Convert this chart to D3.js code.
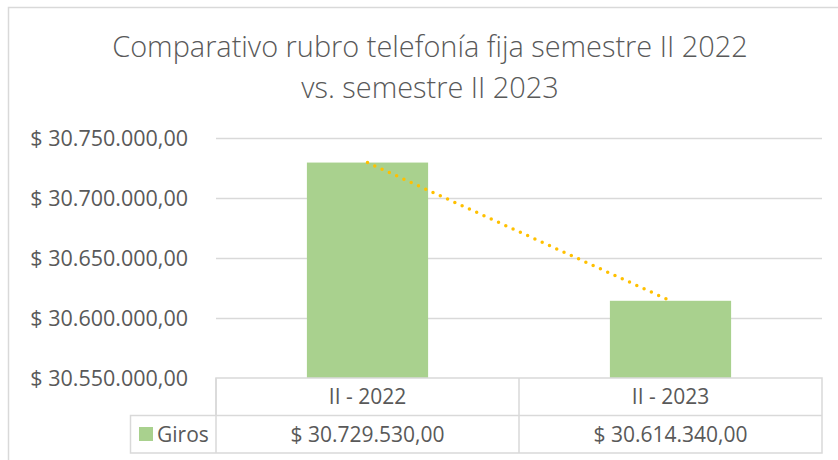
<!DOCTYPE html>
<html><head><meta charset="utf-8">
<script src="https://cdn.jsdelivr.net/npm/d3@7"></script>
<style>
html,body{margin:0;padding:0;background:#fff;}
svg{display:block;font-family:"Open Sans",sans-serif;}
</style></head>
<body><svg id="chart" width="838" height="460"></svg>
<script>
const titleLines = ["Comparativo rubro telefonía fija semestre II 2022", "vs. semestre II 2023"];
const categories = ["II - 2022", "II - 2023"];
const seriesName = "Giros";
const values = [30729530, 30614340];
const yTicks = [30550000, 30600000, 30650000, 30700000, 30750000];

const svg = d3.select("#chart");
const textColor = "#595959", gridColor = "#d9d9d9", barColor = "#a9d18e", trendColor = "#ffc000";

const loc = d3.formatLocale({decimal: ",", thousands: ".", grouping: [3], currency: ["$ ", ""]});
const fmt = loc.format("$,.2f");

const pL = 216, pR = 822, pT = 138, pB = 378;
const rowH = 37.5;

// chart border
svg.append("path").attr("d", "M8.5,460 V7.5 H838").attr("fill", "none").attr("stroke", gridColor).attr("stroke-width", 1.5);

// title
const title = svg.append("text").attr("text-anchor", "middle").attr("fill", textColor)
  .style("font-size", "28.9px").style("font-weight", 300);
titleLines.forEach((t, i) => title.append("tspan").attr("x", 430).attr("y", 57 + i * 41).text(t));

const y = d3.scaleLinear().domain([yTicks[0], yTicks[yTicks.length - 1]]).range([pB, pT]);
const x = d3.scaleBand().domain(categories).range([pL, pR]).paddingInner(0.6).paddingOuter(0.3);
const col = d3.scaleBand().domain(categories).range([pL, pR]).padding(0);

// gridlines
const grid = svg.append("g").attr("transform", `translate(${pL},0)`)
  .call(d3.axisLeft(y).tickValues(yTicks.slice(1)).tickSize(-(pR - pL)).tickFormat(""));
grid.select(".domain").remove();
grid.selectAll("line").attr("stroke", gridColor).attr("stroke-width", 1.5);

// y axis labels
const yAxis = svg.append("g").attr("transform", `translate(188,0)`)
  .call(d3.axisLeft(y).tickValues(yTicks).tickSize(0).tickPadding(0).tickFormat(fmt));
yAxis.select(".domain").remove();
yAxis.selectAll("text").attr("fill", textColor).style("font-size", "21.5px").attr("dy", "0.35em")
  .style("font-family", "'Open Sans',sans-serif");

// bars
svg.append("g").selectAll("rect").data(values).join("rect")
  .attr("x", (d, i) => x(categories[i]))
  .attr("y", d => y(d))
  .attr("width", x.bandwidth())
  .attr("height", d => pB - y(d))
  .attr("fill", barColor);

// trendline (linear through the two points)
const line = d3.line().x((d, i) => x(categories[i]) + x.bandwidth() / 2).y(d => y(d));
svg.append("path").datum(values).attr("d", line).attr("fill", "none")
  .attr("stroke", trendColor).attr("stroke-width", 3.5).attr("stroke-linecap", "round")
  .attr("stroke-dasharray", "0 8");

// data table
const tbl = svg.append("g").attr("fill", "none").attr("stroke", gridColor).attr("stroke-width", 1.5);
tbl.append("path").attr("d", `M${pL},${pB + rowH} V${pB} H${pR} V${pB + 2 * rowH} H130.5 V${pB + rowH} H${pR}`);
categories.forEach(c => {
  tbl.append("line").attr("x1", col(c)).attr("x2", col(c)).attr("y1", pB).attr("y2", pB + 2 * rowH);
});

const tt = svg.append("g").attr("fill", textColor).style("font-size", "21px");
categories.forEach((c, i) => {
  tt.append("text").attr("x", col(c) + col.bandwidth() / 2).attr("y", pB + rowH / 2).attr("dy", "0.35em")
    .attr("text-anchor", "middle").text(c);
  tt.append("text").attr("x", col(c) + col.bandwidth() / 2).attr("y", pB + rowH * 1.5).attr("dy", "0.35em")
    .attr("text-anchor", "middle").text(fmt(values[i]));
});
// legend key
svg.append("rect").attr("x", 139).attr("y", 427).attr("width", 14).attr("height", 14).attr("fill", barColor);
tt.append("text").attr("x", 157).attr("y", pB + rowH * 1.5).attr("dy", "0.35em").text(seriesName);
</script></body></html>
